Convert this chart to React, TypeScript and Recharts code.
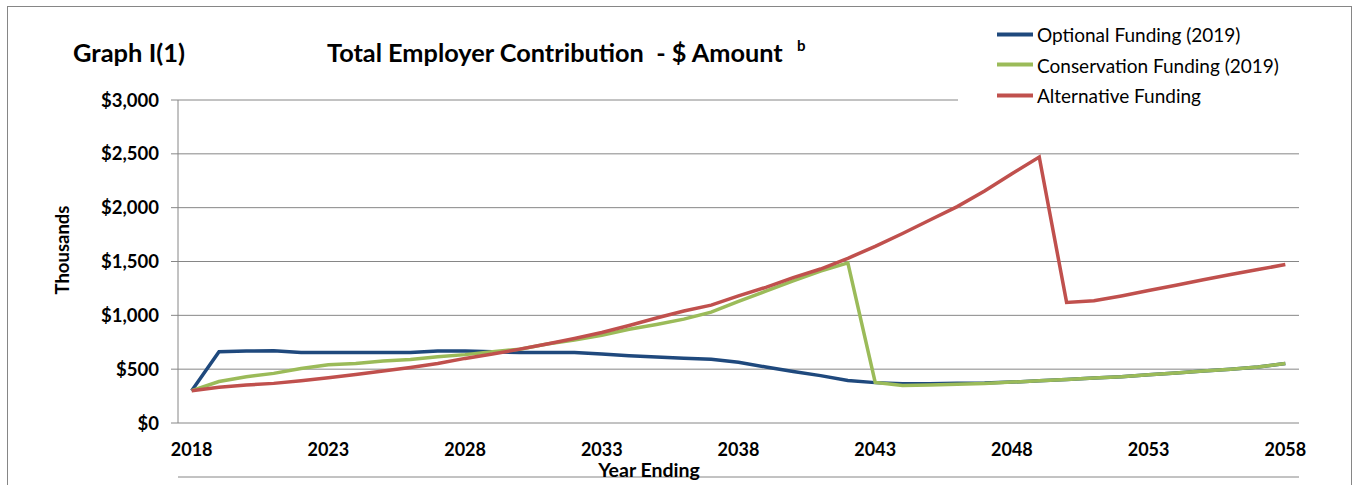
import { LineChart, Line, XAxis, YAxis, CartesianGrid } from 'recharts';

const years = [
  2018, 2019, 2020, 2021, 2022, 2023, 2024, 2025, 2026, 2027,
  2028, 2029, 2030, 2031, 2032, 2033, 2034, 2035, 2036, 2037,
  2038, 2039, 2040, 2041, 2042, 2043, 2044, 2045, 2046, 2047,
  2048, 2049, 2050, 2051, 2052, 2053, 2054, 2055, 2056, 2057, 2058,
];

// thousands of dollars
const optionalFunding = [
  300, 661, 668, 671, 655, 655, 655, 655, 655, 668,
  668, 661, 655, 655, 655, 640, 625, 612, 602, 592,
  565, 520, 478, 440, 395, 375, 365, 365, 370, 372,
  380, 392, 405, 418, 430, 448, 465, 482, 500, 520, 552,
];
const conservationFunding = [
  300, 385, 430, 461, 507, 540, 553, 575, 590, 615,
  635, 661, 686, 733, 770, 815, 870, 915, 965, 1030,
  1130, 1225, 1320, 1410, 1487, 377, 348, 352, 360, 368,
  380, 392, 405, 418, 430, 448, 465, 482, 500, 520, 552,
];
const alternativeFunding = [
  300, 331, 352, 368, 392, 420, 451, 482, 516, 553,
  600, 640, 686, 733, 785, 840, 905, 975, 1040, 1095,
  1180, 1260, 1350, 1430, 1530, 1640, 1760, 1885, 2010, 2155,
  2315, 2470, 1120, 1135, 1180, 1230, 1280, 1330, 1380, 1425, 1472,
];

const yearLabels = [2018, 2023, 2028, 2033, 2038, 2043, 2048, 2053, 2058];
const yTicks = [0, 500, 1000, 1500, 2000, 2500, 3000];

const series = [
  { key: 'optional', name: 'Optional Funding (2019)', color: '#1F497D' },
  { key: 'conservation', name: 'Conservation Funding (2019)', color: '#9BBB59' },
  { key: 'alternative', name: 'Alternative Funding', color: '#C0504D' },
];

const data = years.map((year, i) => ({
  year,
  optional: optionalFunding[i],
  conservation: conservationFunding[i],
  alternative: alternativeFunding[i],
}));

// tick marks sit between the years, like a category axis
const boundaryTicks = [...years.map((y) => y - 0.5), years[years.length - 1] + 0.5];

const FONT = 'Lato, "Open Sans", sans-serif';
const GRAY = '#868686';
const xTickStyle = { fontSize: 18, fontWeight: 700, fill: '#000', fontFamily: FONT };
const yTickStyle = { fontSize: 18.5, fontWeight: 700, fill: '#000', fontFamily: FONT };

export default function App() {
  return (
    <div style={{ position: 'absolute', left: 0, top: 0, width: 1353, height: 485, background: '#fff', fontFamily: FONT, overflow: 'hidden' }}>
      <div style={{ position: 'absolute', left: 7, top: 6, width: 1343, height: 500, border: `1px solid ${GRAY}` }} />

      <LineChart
        width={1353}
        height={485}
        data={data}
        margin={{ top: 100, right: 54, bottom: 0, left: 78 }}
        style={{ position: 'absolute', left: 0, top: 0 }}
      >
        <CartesianGrid vertical={false} stroke={GRAY} xAxisId="labels" />
        <XAxis
          xAxisId="ticks"
          dataKey="year"
          type="number"
          domain={[2017.5, 2058.5]}
          ticks={boundaryTicks}
          tick={false}
          tickSize={6}
          height={8}
          stroke={GRAY}
          interval={0}
        />
        <XAxis
          xAxisId="labels"
          dataKey="year"
          type="number"
          domain={[2017.5, 2058.5]}
          ticks={yearLabels}
          interval={0}
          axisLine={false}
          tickLine={false}
          tickSize={0}
          tickMargin={20}
          height={54}
          tick={xTickStyle}
        />
        <YAxis
          domain={[0, 3000]}
          ticks={yTicks}
          interval={0}
          width={100}
          stroke={GRAY}
          tickSize={7}
          tickMargin={12}
          tick={yTickStyle}
          tickFormatter={(v: number) => `$${v.toLocaleString('en-US')}`}
        />
        {series.map((s) => (
          <Line
            key={s.key}
            xAxisId="labels"
            type="linear"
            dataKey={s.key}
            name={s.name}
            stroke={s.color}
            strokeWidth={3.5}
            dot={false}
            activeDot={false}
            isAnimationActive={false}
          />
        ))}
      </LineChart>

      <div style={{ position: 'absolute', left: 73, top: 52, transform: 'translateY(-50%)', fontSize: 25.5, fontWeight: 700 }}>Graph I(1)</div>
      <div style={{ position: 'absolute', left: 327, top: 52, transform: 'translateY(-50%)', fontSize: 25.3, fontWeight: 700, whiteSpace: 'nowrap' }}>
        Total Employer Contribution&nbsp; - $ Amount
      </div>
      <div style={{ position: 'absolute', left: 797, top: 45, transform: 'translateY(-50%)', fontSize: 15, fontWeight: 700 }}>b</div>

      <div style={{ position: 'absolute', left: 958, top: 14, width: 380, height: 96, background: '#fff' }}>
        {series.map((s, i) => (
          <div key={s.key} style={{ position: 'absolute', left: 39, top: 20 + i * 30.5, transform: 'translateY(-50%)', display: 'flex', alignItems: 'center', whiteSpace: 'nowrap' }}>
            <span style={{ display: 'inline-block', width: 36, height: 4, background: s.color, marginRight: 4 }} />
            <span style={{ fontSize: 19 }}>{s.name}</span>
          </div>
        ))}
      </div>

      <div style={{ position: 'absolute', left: 62, top: 250, transform: 'translate(-50%, -50%) rotate(-90deg)', fontSize: 18.5, fontWeight: 700, whiteSpace: 'nowrap' }}>
        Thousands
      </div>
      <div style={{ position: 'absolute', left: 649, top: 469, transform: 'translate(-50%, -50%)', fontSize: 19.5, fontWeight: 700, whiteSpace: 'nowrap' }}>
        Year Ending
      </div>
    </div>
  );
}
